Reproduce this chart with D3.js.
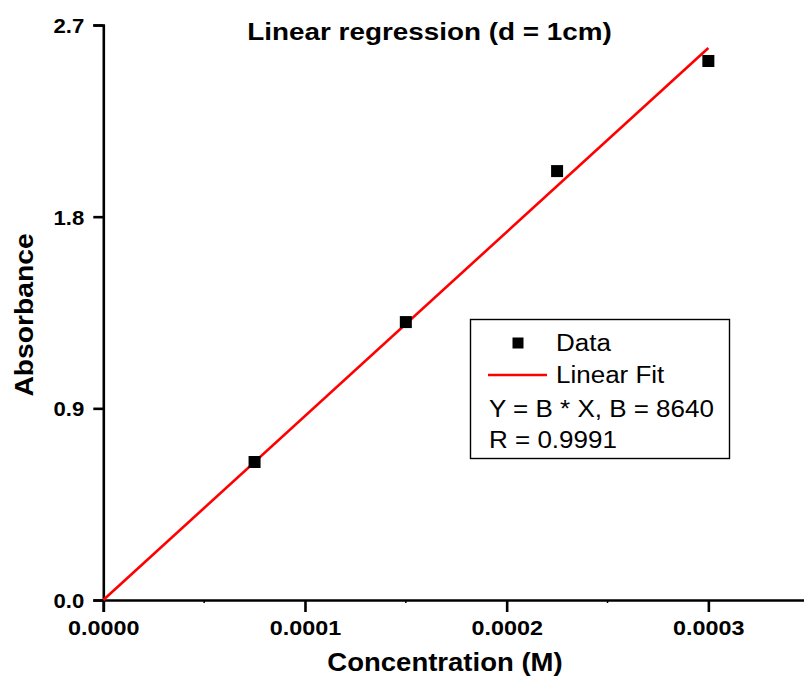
<!DOCTYPE html>
<html>
<head>
<meta charset="utf-8">
<script src="https://cdn.jsdelivr.net/npm/d3@7"></script>
<style>
  html, body { margin: 0; padding: 0; background: #fff; }
  svg { display: block; font-family: "Liberation Sans", Arial, sans-serif; }
</style>
</head>
<body>
<svg id="chart" width="804" height="680"></svg>
<script>
// Absorbance measurements at each concentration (M)
const concentration = [0.000075, 0.00015, 0.000225, 0.0003];
const absorbance = [0.648, 1.305, 2.014, 2.531];

// Fit through the origin: Y = B * X
const slopeB = 8640;
const fitRange = [0, 0.0003];
const fitR = "0.9991";

const xTicks = [0, 0.0001, 0.0002, 0.0003];
const xMinorTicks = [0.00005, 0.00015, 0.00025];
const yTicks = [0, 0.9, 1.8, 2.7];

const titleText = "Linear regression (d = 1cm)";
const xTitle = "Concentration (M)";
const yTitle = "Absorbance";
const legendLabels = ["Data", "Linear Fit"];

const svg = d3.select("#chart");

const x = d3.scaleLinear().domain([0, 0.00035]).range([103.3, 809.2]);
const y = d3.scaleLinear().domain([0, 2.7]).range([600, 25]);

// Widen a text element horizontally by spacing its glyphs
function stretch(sel, k) {
  sel.each(function () {
    const w = this.getComputedTextLength();
    d3.select(this).attr("textLength", w * k).attr("lengthAdjust", "spacingAndGlyphs");
  });
}

// X axis
const xAxis = svg.append("g")
  .attr("transform", `translate(0,${y(0)})`)
  .call(d3.axisBottom(x).tickValues(xTicks).tickFormat(d3.format(".4f")).tickSizeOuter(0).tickSize(12).tickPadding(8));
xAxis.select(".domain").attr("stroke", "#000").attr("stroke-width", 2.6);
xAxis.selectAll(".tick line").attr("stroke", "#000").attr("stroke-width", 2.6);
xAxis.selectAll(".tick text")
  .attr("font-size", 20.5).attr("font-weight", "bold").attr("fill", "#000")
  .attr("font-family", "Liberation Sans, Arial, sans-serif")
  .call(stretch, 1.14);

svg.append("g").selectAll("line").data(xMinorTicks).join("line")
  .attr("x1", d => x(d)).attr("x2", d => x(d))
  .attr("y1", y(0)).attr("y2", y(0) + 3)
  .attr("stroke", "#000").attr("stroke-width", 1.5);

// Y axis
const yAxis = svg.append("g")
  .attr("transform", `translate(${x(0)},0)`)
  .call(d3.axisLeft(y).tickValues(yTicks).tickFormat(d3.format(".1f")).tickSizeOuter(0).tickSize(10).tickPadding(9));
yAxis.select(".domain").attr("stroke", "#000").attr("stroke-width", 2.6);
yAxis.selectAll(".tick line").attr("stroke", "#000").attr("stroke-width", 2.6);
yAxis.selectAll(".tick text")
  .attr("font-size", 20.5).attr("font-weight", "bold").attr("fill", "#000")
  .attr("font-family", "Liberation Sans, Arial, sans-serif")
  .attr("dy", "0.36em")
  .call(stretch, 1.08);

// Fit line
const line = d3.line().x(d => x(d)).y(d => y(slopeB * d));
svg.append("path")
  .datum(fitRange)
  .attr("d", line)
  .attr("fill", "none")
  .attr("stroke", "#ff0000")
  .attr("stroke-width", 2.6);

// Data points
const size = 12;
svg.append("g").selectAll("rect")
  .data(concentration.map((c, i) => [c, absorbance[i]]))
  .join("rect")
  .attr("x", d => x(d[0]) - size / 2)
  .attr("y", d => y(d[1]) - size / 2)
  .attr("width", size).attr("height", size)
  .attr("fill", "#000");

// Title
svg.append("text")
  .attr("x", 429.5).attr("y", 40)
  .attr("text-anchor", "middle")
  .attr("font-size", 24).attr("font-weight", "bold")
  .text(titleText)
  .call(stretch, 1.16);

// Axis titles
svg.append("text")
  .attr("x", 445).attr("y", 671)
  .attr("text-anchor", "middle")
  .attr("font-size", 25).attr("font-weight", "bold")
  .text(xTitle)
  .call(stretch, 1.1);

svg.append("text")
  .attr("transform", "translate(33,315) rotate(-90)")
  .attr("text-anchor", "middle")
  .attr("font-size", 25).attr("font-weight", "bold")
  .text(yTitle)
  .call(stretch, 1.13);

// Legend
const lg = svg.append("g");
lg.append("rect")
  .attr("x", 470.5).attr("y", 319.5).attr("width", 259).attr("height", 139)
  .attr("fill", "#fff").attr("stroke", "#000").attr("stroke-width", 1.4);
lg.append("rect")
  .attr("x", 518 - 5.5).attr("y", 343 - 5.5).attr("width", 11).attr("height", 11)
  .attr("fill", "#000");
lg.append("line")
  .attr("x1", 488).attr("x2", 547).attr("y1", 375).attr("y2", 375)
  .attr("stroke", "#ff0000").attr("stroke-width", 2.6);

const legendText = [
  { t: legendLabels[0], x: 556, y: 351 },
  { t: legendLabels[1], x: 556, y: 383 },
  { t: `Y = B * X, B = ${slopeB}`, x: 489, y: 417 },
  { t: `R = ${fitR}`, x: 489, y: 448 }
];
lg.selectAll("text.lt").data(legendText).join("text")
  .attr("class", "lt")
  .attr("x", d => d.x).attr("y", d => d.y)
  .attr("font-size", 23)
  .text(d => d.t)
  .call(stretch, 1.13);
</script>
</body>
</html>
